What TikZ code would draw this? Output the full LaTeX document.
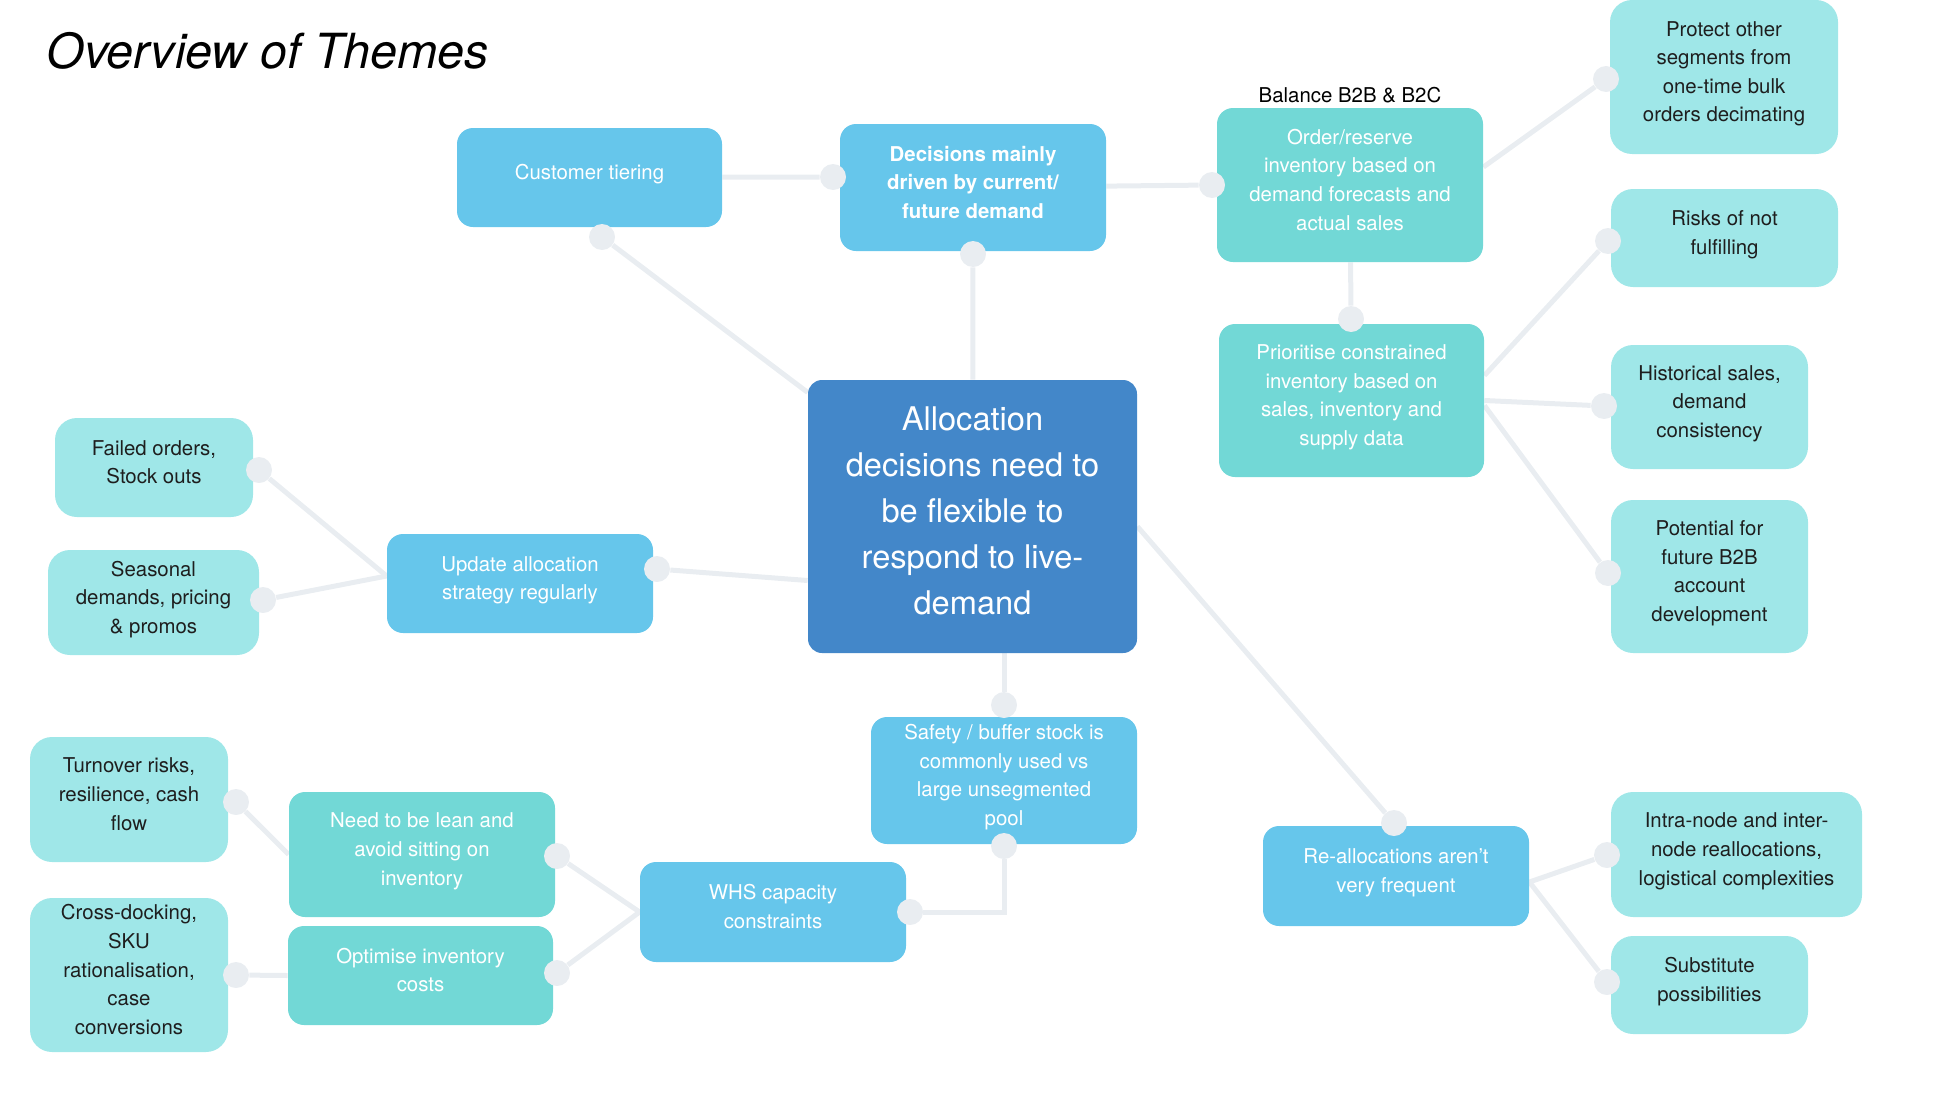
\documentclass[tikz,border=0pt]{standalone}
\usepackage{fontspec}
\setmainfont{TeX Gyre Heros}
\usetikzlibrary{positioning,backgrounds}

\definecolor{skyblue}{HTML}{66C6EB}
\definecolor{coreblue}{HTML}{4387C9}
\definecolor{tealbox}{HTML}{72D8D6}
\definecolor{paleaqua}{HTML}{9FE7E8}
\definecolor{linkgray}{HTML}{E9EDF1}
\definecolor{inkdark}{HTML}{1E1E1E}

\begin{document}
\begin{tikzpicture}[x=0.5pt, y=-0.5pt,
  sz/.style 2 args={minimum width=#1*0.5pt, minimum height=#2*0.5pt},
  box/.style={rectangle, rounded corners=8pt, inner sep=0pt, align=center,
    text depth=5.5pt, font=\fontsize{10.2}{14.3}\selectfont},
  topic/.style={box, fill=skyblue, text=white},
  theme/.style={box, fill=tealbox, text=white},
  leaf/.style={box, fill=paleaqua, text=inkdark, rounded corners=11pt},
  core/.style={box, fill=coreblue, text=white, rounded corners=7pt,
    font=\fontsize{16.3}{23}\selectfont},
  dot/.style={circle, fill=linkgray, inner sep=0pt, minimum size=13pt},
  link/.style={draw=linkgray, line width=2.5pt},
  lbl/.style={inner sep=0pt, text=black, font=\fontsize{10.2}{14.3}\selectfont}]
  \useasboundingbox (0,0) rectangle (1946,1092);

  \node[anchor=base west, inner sep=0pt, font=\fontsize{24.2}{29}\selectfont\itshape] (title) at (46,68) {Overview of Themes};

  % centre
  \node[core, sz={329}{273}] (cen) at (972.5,516.5) {Allocation\\decisions need to\\be flexible to\\respond to live-\\demand};

  % top branch
  \node[topic, sz={265}{99}] (ct) at (589.5,177.5) {Customer tiering};
  \node[topic, sz={266}{127}, font=\fontsize{10.2}{14.3}\selectfont\bfseries] (dec) at (973,187.5) {Decisions mainly\\driven by current/\\future demand};
  \node[theme, sz={266}{154}] (or) at (1350,185) {Order/reserve\\inventory based on\\demand forecasts and\\actual sales};
  \node[lbl, above=2pt of or] (bal) {Balance B2B \& B2C};
  \node[theme, sz={265}{153}] (pri) at (1351.5,400.5) {Prioritise constrained\\inventory based on\\sales, inventory and\\supply data};
  \node[leaf, sz={228}{154}] (pro) at (1724,77) {Protect other\\segments from\\one-time bulk\\orders decimating};
  \node[leaf, sz={227}{98}] (risk) at (1724.5,238) {Risks of not\\fulfilling};
  \node[leaf, sz={197}{124}] (hist) at (1709.5,407) {Historical sales,\\demand\\consistency};
  \node[leaf, sz={197}{153}] (pot) at (1709.5,576.5) {Potential for\\future B2B\\account\\development};

  % left branch
  \node[topic, sz={266}{99}] (upd) at (520,583.5) {Update allocation\\strategy regularly};
  \node[leaf, sz={198}{99}] (fail) at (154,467.5) {Failed orders,\\Stock outs};
  \node[leaf, sz={211}{105}] (seas) at (153.5,602.5) {Seasonal\\demands, pricing\\\& promos};

  % bottom branch
  \node[topic, sz={266}{127}] (safe) at (1004,780.5) {Safety / buffer stock is\\commonly used vs\\large unsegmented\\pool};
  \node[topic, sz={266}{100}] (whs) at (773,912) {WHS capacity\\constraints};
  \node[theme, sz={266}{125}] (lean) at (422,854.5) {Need to be lean and\\avoid sitting on\\inventory};
  \node[theme, sz={265}{99}] (opt) at (420.5,975.5) {Optimise inventory\\costs};
  \node[leaf, sz={198}{125}] (turn) at (129,799.5) {Turnover risks,\\resilience, cash\\flow};
  \node[leaf, sz={198}{154}] (cross) at (129,975) {Cross-docking,\\SKU\\rationalisation,\\case\\conversions};

  % right branch
  \node[topic, sz={266}{100}] (real) at (1396,876) {Re-allocations aren’t\\very frequent};
  \node[leaf, sz={251}{125}] (intra) at (1736.5,854.5) {Intra-node and inter-\\node reallocations,\\logistical complexities};
  \node[leaf, sz={197}{98}] (sub) at (1709.5,985) {Substitute\\possibilities};

  % joints
  \node[dot] (dCt) at (602,237) {};
  \node[dot] (dDec) at (833,177) {};
  \node[dot] (dDecS) at (973,254) {};
  \node[dot] (dOr) at (1212,185) {};
  \node[dot] (dPro) at (1606,79) {};
  \node[dot] (dPri) at (1351,319) {};
  \node[dot] (dRisk) at (1608,241) {};
  \node[dot] (dHist) at (1604,406) {};
  \node[dot] (dPot) at (1608,573) {};
  \node[dot] (dReal) at (1394,823) {};
  \node[dot] (dSafeN) at (1004,705) {};
  \node[dot] (dSafeS) at (1004,846) {};
  \node[dot] (dUpd) at (657,569) {};
  \node[dot] (dFail) at (259,470) {};
  \node[dot] (dSeas) at (263,600) {};
  \node[dot] (dWhs) at (910,912) {};
  \node[dot] (dLean) at (557,856) {};
  \node[dot] (dOpt) at (557,973) {};
  \node[dot] (dTurn) at (236,802) {};
  \node[dot] (dCross) at (236,975) {};
  \node[dot] (dIntra) at (1607,855) {};
  \node[dot] (dSub) at (1607,982) {};

  \begin{scope}[on background layer]
    \draw[link] (dCt) -- (cen);
    \draw[link] (ct) -- (dDec);
    \draw[link] (dDecS) -- (cen);
    \draw[link] (dec) -- (dOr);
    \draw[link] ([yshift=9pt]or.east) -- (dPro);
    \draw[link] (or) -- (dPri);
    \draw[link] ([yshift=12.5pt]pri.east) -- (dRisk);
    \draw[link] (pri.east) -- (dHist);
    \draw[link] ([yshift=-2.5pt]pri.east) -- (dPot);
    \draw[link] ([yshift=-5pt]cen.east) -- (dReal);
    \draw[link] ([xshift=15.75pt]cen.south) -- (dSafeN);
    \draw[link] ([yshift=-32pt]cen.west) -- (dUpd);
    \foreach \d in {dFail,dSeas}
      \draw[link] ([yshift=3.75pt]upd.west) -- (\d);
    \draw[link] (dSafeS) |- (dWhs);
    \foreach \d in {dLean,dOpt}
      \draw[link] (whs.west) -- (\d);
    \draw[link] (lean.west) -- (dTurn);
    \draw[link] (opt.west) -- (dCross);
    \foreach \d in {dIntra,dSub}
      \draw[link] ([yshift=-3pt]real.east) -- (\d);
  \end{scope}
\end{tikzpicture}
\end{document}
